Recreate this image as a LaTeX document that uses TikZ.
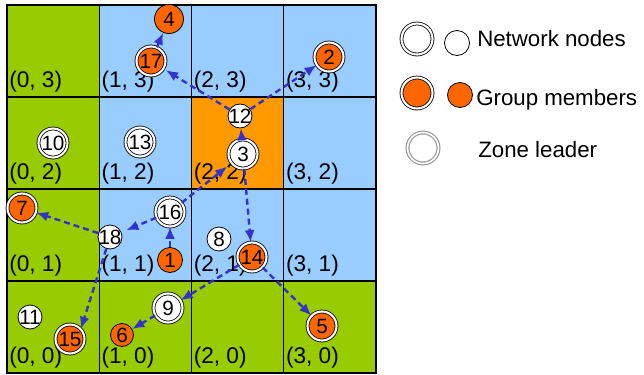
\documentclass[tikz,border=0pt]{standalone}
\usepackage{fontspec}
\setmainfont{Liberation Sans}
\usepackage{tikz}
\usetikzlibrary{arrows.meta}
\definecolor{zonegreen}{HTML}{99CC00}
\definecolor{zoneblue}{HTML}{99CCFF}
\definecolor{zoneorange}{HTML}{FF9900}
\definecolor{memberorange}{HTML}{FF6600}
\definecolor{routeblue}{HTML}{3333CC}
\newcommand{\cellfont}{\fontsize{17}{20}\selectfont}
\newcommand{\keyfont}{\fontsize{16.7}{20}\selectfont}
\newcommand{\idfont}{\fontsize{15.5}{16}\selectfont}
\tikzstyle{cell}=[draw=black,line width=1.1pt]
\tikzstyle{netnode}=[circle,draw,fill=white,line width=0.6pt,minimum size=18pt,inner sep=0pt,font=\idfont]
\tikzstyle{member}=[netnode,fill=memberorange]
\tikzstyle{leader}=[circle,draw,line width=0.6pt,double=white,double distance=1.6pt,fill=white,minimum size=21.75pt,inner sep=0pt,font=\idfont]
\tikzstyle{leadermember}=[leader,fill=memberorange]
\tikzstyle{route}=[draw=routeblue,line width=1.8pt,dash pattern=on 4.5pt off 3pt,-{Latex[length=9pt,width=7.5pt]}]
\tikzstyle{celllabel}=[anchor=base west,inner sep=0pt,font=\cellfont]
\tikzstyle{keylabel}=[anchor=base west,inner sep=0pt,font=\keyfont]

\begin{document}
\begin{tikzpicture}[x=0.75pt,y=-0.75pt]

    \useasboundingbox (0,0) rectangle (644,375);

    \def\cw{92.25};
    \def\ch{92};

    % zones
    \foreach \i/\j/\c in { 0/3/zonegreen, 1/3/zoneblue, 2/3/zoneblue, 3/3/zoneblue,
                           0/2/zonegreen, 1/2/zoneblue, 2/2/zoneorange, 3/2/zoneblue,
                           0/1/zonegreen, 1/1/zoneblue, 2/1/zoneblue, 3/1/zoneblue,
                           0/0/zonegreen, 1/0/zonegreen, 2/0/zonegreen, 3/0/zonegreen}
    {
        \path[cell, fill=\c] ({7+\i*\cw},{5+(3-\j)*\ch}) rectangle ++(\cw,\ch);
        \node[celllabel] (L\i\j) at ({7+\i*\cw+2},{5+(4-\j)*\ch-10}) {(\i, \j)};
    }

    % network nodes
    \foreach \n/\x/\y in { 12/240/116, 18/110/237, 8/219/239, 11/30/317 }
        \node[netnode] (n\n) at (\x,\y) {\makebox[0pt]{\n}};

    \foreach \n/\x/\y/\d in { 4/169/19/21.75pt, 1/170/260/18.75pt, 6/122/335/17.25pt}
        \node[member, minimum size=\d] (n\n) at (\x,\y) {\makebox[0pt]{\n}};

    \foreach \n/\x/\y in { 10/53/143, 13/140/142, 3/243/154, 16/170/212, 9/168/308 }
        \node[leader] (n\n) at (\x,\y) {\makebox[0pt]{\n}};

    \foreach \n/\x/\y in { 17/151/61, 2/329/57, 7/22/208, 15/70/339, 14/252/257, 5/322/326 }
        \node[leadermember] (n\n) at (\x,\y) {\makebox[0pt]{\n}};

    % routing
    \draw[route] (n17) -- (n4);
    \draw[route, shorten >=2pt] (n12) -- (n17);
    \draw[route] (n12) -- (n2);
    \draw[route] (n3) -- (n12);
    \draw[route, shorten >=4pt] (n16) -- (n3);
    \draw[route, shorten >=4pt] (n16) -- (n18);
    \draw[route] (n1) -- (n16);
    \draw[route] (n18) -- (n7);
    \draw[route] (n18) -- (n15.43);
    \draw[route] (n3) -- (n14);
    \draw[route] (n14) -- (n9);
    \draw[route] (n14) -- (n5);
    \draw[route] (n9) -- (n6);

    % legend
    \node[leader, minimum size=23.25pt] (keynet) at (417,39) {};
    \node[netnode, minimum size=18.75pt] (keynetb) at (457,43) {};
    \node[keylabel] (keynettext) at (477,46) {Network nodes};

    \node[leadermember, minimum size=23.25pt] (keymember) at (417,93) {};
    \node[member, minimum size=18.75pt] (keymemberb) at (460,95) {};
    \node[keylabel] (keymembertext) at (476,105) {Group members};

    \node[circle, draw=gray!80, line width=0.9pt, double=white, double distance=1.2pt,
          minimum size=23.25pt, inner sep=0pt] (keyleader) at (423,148) {};
    \node[keylabel] (keyleadertext) at (478,157) {Zone leader};

\end{tikzpicture}
\end{document}
